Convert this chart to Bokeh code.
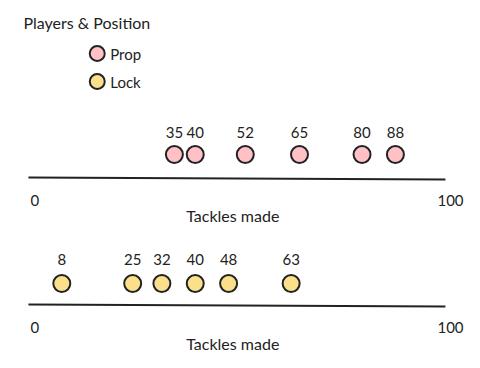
from bokeh.plotting import figure
from bokeh.models import Range1d, ColumnDataSource
from bokeh.core.properties import value
from bokeh.embed import file_html
from bokeh.resources import INLINE

title = "Players & Position"
x_label = "Tackles made"
series_names = ["Prop", "Lock"]
prop_tackles = [35, 40, 52, 65, 80, 88]
lock_tackles = [8, 25, 32, 40, 48, 63]
axis_min = 0
axis_max = 100
colors = ["#ffc0c6", "#fbe08c"]

FONT = value("Lato")
INK = "#222222"

X0 = -6.7
p = figure(width=464, height=360, output_backend="svg", toolbar_location=None,
           x_range=Range1d(X0, X0 + 464 / 4.17), y_range=Range1d(360, 0),
           min_border=0)
p.axis.visible = False
p.grid.visible = False
p.outline_line_color = None
p.background_fill_color = "white"
p.border_fill_color = "white"

# row layouts: (axis y, dot y, label y, tick y, xlabel y)
rows = [
    (prop_tackles, colors[0], 177, 154, 132, 200, 215),
    (lock_tackles, colors[1], 304, 283, 259, 327, 343),
]

for vals, col, ay, dy, ly, ty, xy in rows:
    p.segment(x0=[axis_min], y0=[ay], x1=[axis_max], y1=[ay + 2],
              line_color=INK, line_width=2)
    src = ColumnDataSource(dict(x=vals, y=[dy] * len(vals),
                                ly=[ly] * len(vals),
                                t=[str(v) for v in vals]))
    p.scatter("x", "y", source=src, size=17, fill_color=col,
              line_color=INK, line_width=2)
    p.text("x", "ly", text="t", source=src, text_font=FONT,
           text_font_size="15px", text_color=INK,
           text_align="center", text_baseline="middle")
    p.text([axis_min], [ty], text=[str(axis_min)], text_font=FONT,
           text_font_size="15px", text_color=INK,
           text_align="left", text_baseline="middle", x_offset=2)
    p.text([axis_max], [ty], text=[str(axis_max)], text_font=FONT,
           text_font_size="15px", text_color=INK,
           text_align="left", text_baseline="middle", x_offset=-8)
    p.text([(axis_min + axis_max) / 2 - 1], [xy], text=[x_label], text_font=FONT,
           text_font_size="16px", text_color=INK,
           text_align="center", text_baseline="middle")

# title
p.text([X0], [22], text=[title], text_font=FONT, text_font_size="16px",
       text_color=INK, text_align="left", text_baseline="middle", x_offset=23)

# legend
leg_y = [53, 81]
p.scatter([16.5, 16.5], leg_y, size=15, fill_color=colors,
          line_color=INK, line_width=2)
p.text([16.5, 16.5], leg_y, text=series_names, text_font=FONT,
       text_font_size="15px", text_color=INK, text_align="left",
       text_baseline="middle", x_offset=13)

open("out.html", "w").write(file_html(p, INLINE))
